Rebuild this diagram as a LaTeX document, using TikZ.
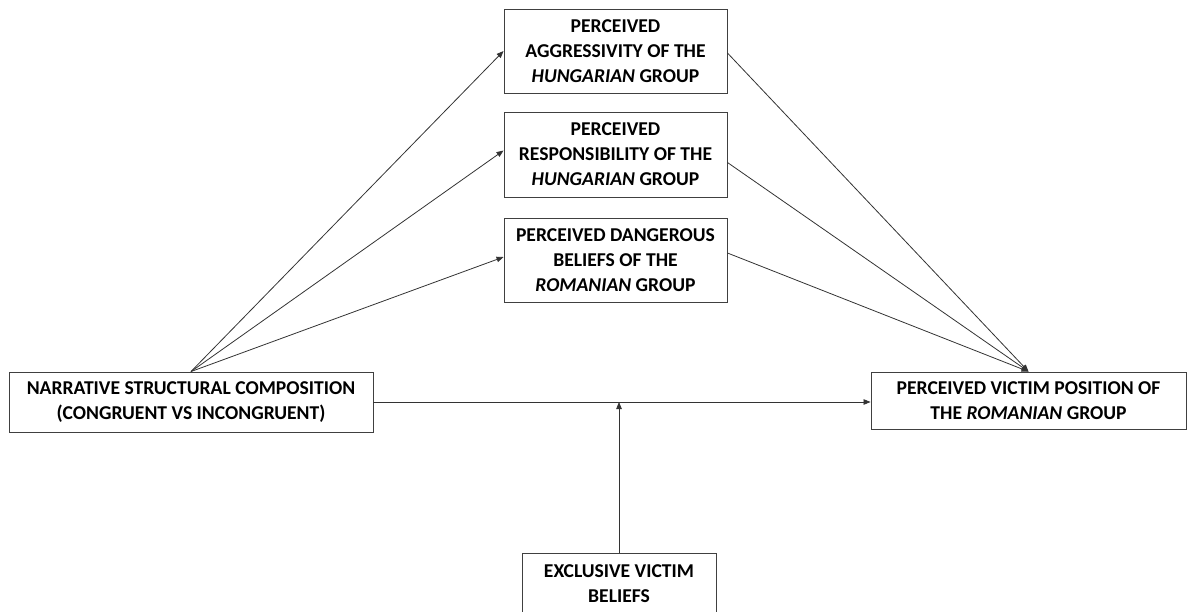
\documentclass[tikz,border=0pt]{standalone}
\usepackage{fontspec}
\setmainfont{Carlito}
\usetikzlibrary{arrows.meta,calc}
\tikzset{
  txt/.style={font=\fontsize{19.6}{25}\selectfont\bfseries, align=center, inner sep=0pt},
  box/.style={txt, draw=black!75, line width=0.9pt},
  conn/.style={line width=0.8pt, draw=black!80, -{Triangle[length=7pt,width=5.5pt]}},
}
\begin{document}
\begin{tikzpicture}[x=1pt,y=-1pt]
\useasboundingbox (0,0) rectangle (1188,612);
\clip (0,0) rectangle (1188,612);
\node[box, minimum width=364pt, minimum height=60pt] (a) at (191,402)
  {NARRATIVE STRUCTURAL COMPOSITION\\(CONGRUENT VS INCONGRUENT)};
\node[box, minimum width=223pt, minimum height=84pt] (m1) at (615.5,51)
  {PERCEIVED\\AGGRESSIVITY OF THE\\\textit{HUNGARIAN} GROUP};
\node[box, minimum width=223pt, minimum height=85pt] (m2) at (615.5,154.5)
  {PERCEIVED\\RESPONSIBILITY OF THE\\\textit{HUNGARIAN} GROUP};
\node[box, minimum width=223pt, minimum height=84pt] (m3) at (615.5,260)
  {PERCEIVED DANGEROUS\\BELIEFS OF THE\\\textit{ROMANIAN} GROUP};
\node[box, minimum width=315pt, minimum height=57pt] (y) at (1028.5,400.5)
  {PERCEIVED VICTIM POSITION OF\\THE \textit{ROMANIAN} GROUP};
\node[box, minimum width=194pt, minimum height=100pt] (w) at (619,603) {};
\node[txt, anchor=north] (wt) at (619,564)
  {EXCLUSIVE VICTIM\\BELIEFS};
\coordinate (mid) at (619,402);
\draw[conn] (a.north) -- (m1.west);
\draw[conn] (a.north) -- ([yshift=4pt]m2.west);
\draw[conn] (a.north) -- ([yshift=3pt]m3.west);
\draw[conn] ([yshift=-2pt]m1.east) -- (y.north);
\draw[conn] ([yshift=-8pt]m2.east) -- (y.north);
\draw[conn] ([yshift=7pt]m3.east) -- (y.north);
\draw[conn] (a.east) -- (a.east -| y.west);
\draw[conn] (w.north) -- (mid);
\end{tikzpicture}
\end{document}
